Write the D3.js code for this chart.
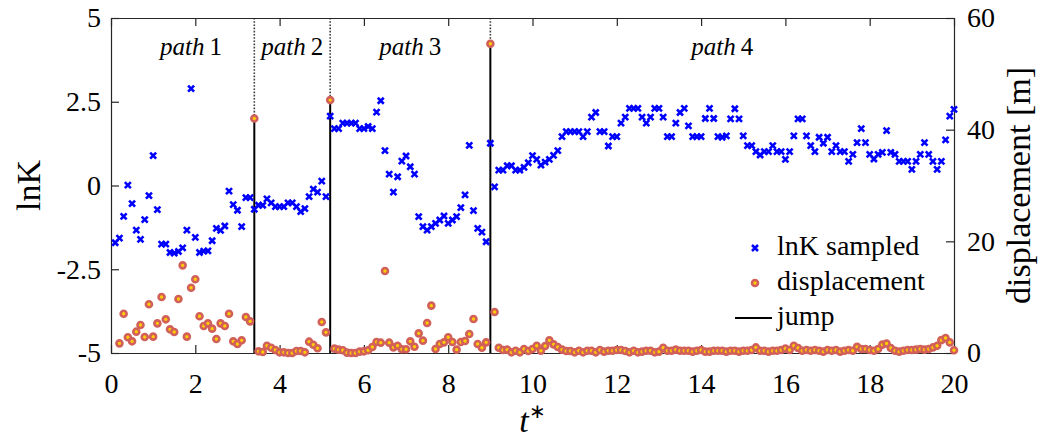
<!DOCTYPE html>
<html>
<head>
<meta charset="utf-8">
<script src="https://cdn.jsdelivr.net/npm/d3@7"></script>
<style>
  body { margin: 0; background: #fff; }
  text { font-family: "Liberation Serif", "Times New Roman", serif; fill: #000; }
</style>
</head>
<body>
<div id="chart"></div>
<script>
// sampling step of the time series (t*)
var dt = 0.1;

// lnK sampled, t* = 0.1 ... 20.0
var lnK_start = 0.1;
var lnK = [
  -1.71, -1.57, -0.92, 0.01, -0.54, -1.33, -1.61, -1.02, -0.30, 0.89,
  -0.72, -1.75, -1.75, -2.00, -2.02, -1.97, -1.86, -1.33, 2.89, -1.55,
  -2.00, -1.96, -1.95, -1.65, -1.28, -1.34, -1.21, -0.17, -0.57, -0.74,
  -1.23, -0.36, -0.36,
  -0.71,
  -0.59, -0.59, -0.40, -0.52, -0.63, -0.63, -0.63, -0.52, -0.52, -0.63,
  -0.78, -0.69, -0.33, -0.11, -0.20, 0.13, -0.33,
  2.07,
  1.70, 1.70, 1.86, 1.86, 1.86, 1.86, 1.70, 1.70, 1.76, 1.70,
  2.19, 2.53, 1.04, 0.34, -0.20, 0.26, 0.73, 0.88, 0.56, 0.34,
  -0.93, -1.23, -1.33, -1.23, -1.13, -1.03, -0.91, -1.13, -1.03, -0.93,
  -0.66, -0.28, 1.20, -0.75, -1.28, -1.39, -1.68,
  1.26,
  -0.04, 0.46, 0.46, 0.59, 0.59, 0.46, 0.46, 0.54, 0.68, 0.89,
  0.78, 0.61, 0.70, 0.78, 0.90, 1.04, 1.46, 1.61, 1.61, 1.61,
  1.61, 1.46, 1.61, 2.04, 2.18, 1.61, 1.61, 1.18, 1.46, 1.46,
  1.86, 2.04, 2.30, 2.30, 2.30, 2.04, 1.86, 2.04, 2.30, 2.30,
  2.04, 1.46, 1.46, 1.86, 2.18, 2.30, 1.78, 1.46, 1.46, 1.46,
  2.00, 2.30, 2.00, 1.46, 1.44, 1.48, 1.99, 2.29, 1.99, 1.48,
  1.19, 1.19, 1.01, 0.91, 1.01, 1.01, 1.19, 1.01, 1.01, 0.78,
  1.01, 1.48, 1.99, 1.99, 1.48, 1.19, 1.01, 1.44, 1.26, 1.44,
  1.01, 1.19, 1.01, 1.01, 0.72, 0.93, 1.28, 1.70, 1.28, 0.93,
  0.79, 0.93, 0.99, 1.64, 0.99, 0.93, 0.72, 0.72, 0.72, 0.48,
  0.72, 0.93, 1.28, 0.93, 0.72, 0.48, 0.72, 1.36, 2.07, 2.27
];

// displacement [m], t* = 0.2 ... 20.0
var disp_start = 0.2;
var disp = [
  1.73, 7.04, 2.81, 2.09, 3.82, 5.02, 2.87, 8.72, 2.93, 5.31,
  10.03, 6.03, 4.24, 3.76, 9.67, 15.7, 2.93, 11.7, 13.2, 6.57,
  4.84, 5.31, 4.36, 2.51, 5.31, 4.84, 7.04, 2.09, 1.61, 2.27,
  6.45, 5.67,
  42.0,
  0.30, 0.18, 1.31, 0.95, 0.54, 0.12, 0.12, 0.00, 0.00, 0.36,
  0.36, 0.12, 2.03, 1.49, 0.84, 5.55, 3.70,
  45.3,
  0.78, 0.60, 0.48, 0.06, 0.00, 0.00, 0.24, 0.30, 0.48, 1.07,
  1.97, 1.85, 14.7, 1.85, 1.01, 1.31, 0.66, 0.66, 2.09, 1.13,
  3.52, 2.21, 5.37, 8.48, 0.72, 1.61, 1.91, 2.81, 1.97, 0.60,
  1.97, 2.15, 3.40, 6.09, 1.61, 0.95, 1.91,
  55.4,
  7.34, 0.95, 0.54, 0.60, 0.12, 0.40, 0.12, 0.72, 0.36, 0.72,
  1.31, 0.40, 1.25, 2.27, 1.55, 1.07, 0.60, 0.36, 0.36, 0.12,
  0.40, 0.12, 0.40, 0.40, 0.12, 0.54, 0.24, 0.40, 0.40, 0.54,
  0.54, 0.36, 0.12, 0.40, 0.12, 0.24, 0.40, 0.40, 0.12, 0.24,
  0.95, 0.40, 0.40, 0.60, 0.40, 0.40, 0.40, 0.24, 0.40, 0.54,
  0.24, 0.24, 0.40, 0.40,
  0.40, 0.24, 0.40, 0.40, 0.24, 0.40, 0.40, 0.54, 1.00, 0.40,
  0.40, 0.24, 0.40, 0.40, 0.54, 0.80, 0.54, 1.30, 0.90, 0.40,
  0.54, 0.40, 0.54, 0.40, 0.24, 0.54, 0.40, 0.54, 0.24, 0.40,
  0.54, 0.40, 1.10, 0.72, 0.72, 0.54, 0.40, 0.72, 1.50, 1.70,
  0.90, 0.40, 0.24, 0.40, 0.54, 0.54, 0.60, 0.72, 0.60, 0.72,
  1.00, 1.30, 2.30, 2.70, 1.90, 0.50
];

// jumps between paths
var jump_t = [3.4, 5.2, 9.0];
var path_names = ['1', '2', '3', '4'];
var path_label_t = [1.9, 4.3, 7.1, 14.5];

var x_ticks = [0, 2, 4, 6, 8, 10, 12, 14, 16, 18, 20];
var lnK_ticks = [-5, -2.5, 0, 2.5, 5];
var disp_ticks = [0, 20, 40, 60];

var chart_width = 1042;
var chart_height = 439;
var plot_left = 111, plot_right = 954, plot_top = 18, plot_bottom = 353;
var axis_color = '#262626';
var cross_color = '#0000ff';
var ring_color = '#d2605a';
var dot_color = '#ffcc00';

var lnK_data = lnK.map(function(v, i) {
  return { t: lnK_start + i * dt, v: v };
});
var disp_data = disp.map(function(v, i) {
  return { t: disp_start + i * dt, v: v };
});
function dispAt(t) {
  return disp[Math.round((t - disp_start) / dt)];
}

var svg = d3.select('#chart')
  .append('svg')
  .attr('width', chart_width)
  .attr('height', chart_height);

var x_scale = d3.scaleLinear().domain([0, 20]).range([plot_left, plot_right]);
var y_scale = d3.scaleLinear().domain([-5, 5]).range([plot_bottom, plot_top]);
var y2_scale = d3.scaleLinear().domain([0, 60]).range([plot_bottom, plot_top]);

// jump lines: dotted above the marker, solid below
var jumps = svg.append('g').attr('class', 'jumps');
jumps.selectAll('line.dot')
  .data(jump_t)
  .enter()
  .append('line')
  .attr('class', 'dot')
  .attr('x1', function(d) { return x_scale(d); })
  .attr('x2', function(d) { return x_scale(d); })
  .attr('y1', plot_top)
  .attr('y2', function(d) { return y2_scale(dispAt(d)); })
  .attr('stroke', '#3a3a3a')
  .attr('stroke-width', 1.6)
  .attr('stroke-dasharray', '1.6,1.6');
jumps.selectAll('line.solid')
  .data(jump_t)
  .enter()
  .append('line')
  .attr('class', 'solid')
  .attr('x1', function(d) { return x_scale(d); })
  .attr('x2', function(d) { return x_scale(d); })
  .attr('y1', function(d) { return y2_scale(dispAt(d)); })
  .attr('y2', plot_bottom)
  .attr('stroke', '#000')
  .attr('stroke-width', 2);

// axes
var x_axis = d3.axisBottom(x_scale)
  .tickValues(x_ticks)
  .tickFormat(function(d) { return String(d); })
  .tickSize(-8)
  .tickSizeOuter(0)
  .tickPadding(20);
svg.append('g')
  .attr('class', 'x-axis')
  .attr('transform', 'translate(0,' + plot_bottom + ')')
  .call(x_axis);

svg.append('g')
  .attr('class', 'x-axis-top')
  .attr('transform', 'translate(0,' + plot_top + ')')
  .call(d3.axisTop(x_scale).tickValues(x_ticks).tickSize(-8).tickSizeOuter(0).tickFormat(''));

svg.append('g')
  .attr('class', 'y-axis')
  .attr('transform', 'translate(' + plot_left + ',0)')
  .call(d3.axisLeft(y_scale)
    .tickValues(lnK_ticks)
    .tickFormat(function(d) { return String(d); })
    .tickSize(-8)
    .tickSizeOuter(0)
    .tickPadding(10));

svg.append('g')
  .attr('class', 'y2-axis')
  .attr('transform', 'translate(' + plot_right + ',0)')
  .call(d3.axisRight(y2_scale)
    .tickValues(disp_ticks)
    .tickFormat(function(d) { return String(d); })
    .tickSize(-8)
    .tickSizeOuter(0)
    .tickPadding(13));

svg.selectAll('.domain, .tick line')
  .attr('stroke', axis_color)
  .attr('stroke-width', 1.2);
svg.selectAll('.tick text')
  .attr('font-family', '"Liberation Serif", serif')
  .attr('font-size', 28)
  .attr('fill', '#000');

// displacement circles
svg.append('g')
  .attr('class', 'disp')
  .selectAll('circle')
  .data(disp_data)
  .enter()
  .append('circle')
  .attr('cx', function(d) { return x_scale(d.t); })
  .attr('cy', function(d) { return y2_scale(d.v); })
  .attr('r', 3)
  .attr('fill', dot_color)
  .attr('stroke', ring_color)
  .attr('stroke-width', 2.6);

// lnK crosses
var cross = 'M-3,-3L3,3M-3,3L3,-3';
svg.append('g')
  .attr('class', 'lnK')
  .selectAll('path')
  .data(lnK_data)
  .enter()
  .append('path')
  .attr('d', cross)
  .attr('transform', function(d) {
    return 'translate(' + x_scale(d.t) + ',' + y_scale(d.v) + ')';
  })
  .attr('stroke', cross_color)
  .attr('stroke-width', 2.6)
  .attr('fill', 'none');

// path labels
var labels = svg.append('g')
  .selectAll('text')
  .data(path_names)
  .enter()
  .append('text')
  .attr('x', function(d, i) { return x_scale(path_label_t[i]); })
  .attr('y', 55)
  .attr('text-anchor', 'middle')
  .attr('font-size', 25);
labels.append('tspan').attr('font-style', 'italic').text('path');
labels.append('tspan').text(function(d) { return '\u2009' + d; });

// axis titles
svg.append('text')
  .attr('transform', 'translate(40,' + ((plot_top + plot_bottom) / 2) + ') rotate(-90)')
  .attr('text-anchor', 'middle')
  .attr('font-size', 34)
  .text('lnK');

svg.append('text')
  .attr('transform', 'translate(1030,' + ((plot_top + plot_bottom) / 2) + ') rotate(-90)')
  .attr('text-anchor', 'middle')
  .attr('font-size', 34)
  .text('displacement [m]');

var xt = svg.append('text')
  .attr('x', (plot_left + plot_right) / 2)
  .attr('y', 432)
  .attr('text-anchor', 'middle')
  .attr('font-size', 34);
xt.append('tspan').attr('font-style', 'italic').text('t');
xt.append('tspan').attr('font-size', 20).attr('dy', -14).text('\u2217');

// legend
var legend = svg.append('g').attr('class', 'legend');
legend.append('path')
  .attr('d', cross)
  .attr('transform', 'translate(755,248)')
  .attr('stroke', cross_color)
  .attr('stroke-width', 2.6);
legend.append('circle')
  .attr('cx', 755)
  .attr('cy', 283)
  .attr('r', 3)
  .attr('fill', dot_color)
  .attr('stroke', ring_color)
  .attr('stroke-width', 2.6);
legend.append('line')
  .attr('x1', 735).attr('x2', 772)
  .attr('y1', 318).attr('y2', 318)
  .attr('stroke', '#000')
  .attr('stroke-width', 2);
legend.selectAll('text')
  .data(['lnK sampled', 'displacement', 'jump'])
  .enter()
  .append('text')
  .attr('x', 777)
  .attr('y', function(d, i) { return 255 + i * 35; })
  .attr('font-size', 28)
  .text(function(d) { return d; });
</script>
</body>
</html>
